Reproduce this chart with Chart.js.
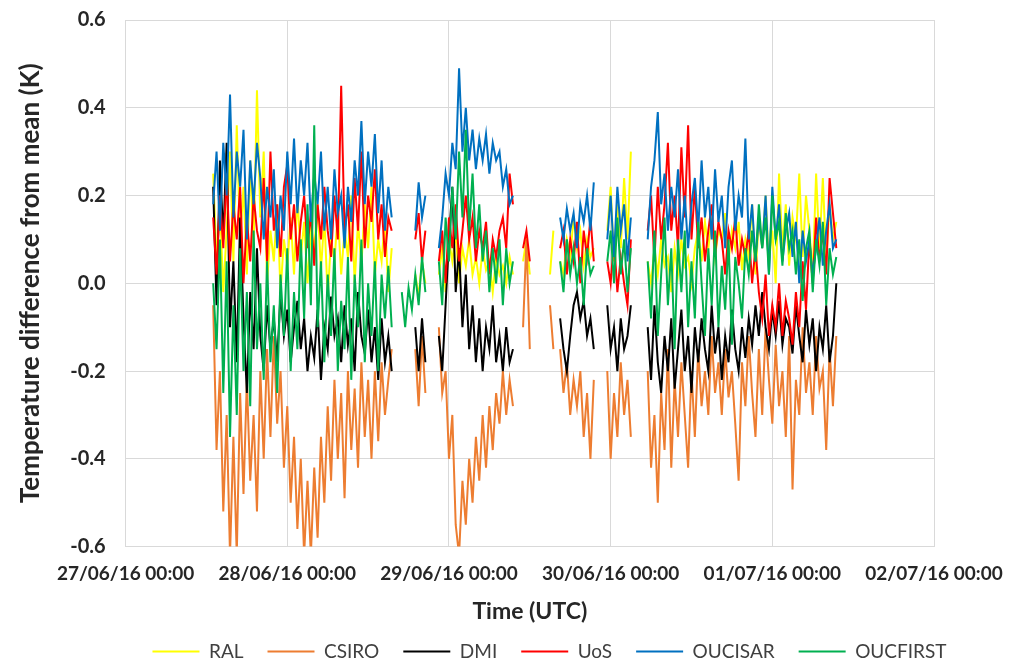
<!DOCTYPE html>
<html>
<head>
<meta charset="utf-8">
<script src="https://cdn.jsdelivr.net/npm/chart.js@4.4.1/dist/chart.umd.min.js"></script>
<style>
  html, body { margin: 0; padding: 0; background: #fff; }
</style>
</head>
<body>
<canvas id="chart" width="1033" height="663"></canvas>
<script>
const seriesNames = ['RAL', 'CSIRO', 'DMI', 'UoS', 'OUCISAR', 'OUCFIRST']
const seriesColors = ['#ffff00', '#ed7d31', '#000000', '#ff0000', '#0070c0', '#00b050']
const xTickLabels = ['27/06/16 00:00', '28/06/16 00:00', '29/06/16 00:00', '30/06/16 00:00', '01/07/16 00:00', '02/07/16 00:00']

// start of each run of samples, hours after 27/06/16 00:00 (samples every 30 min)
const runStarts = [13, 41, 46.5, 59, 63, 64.5, 71.5, 77.5]

const RAL = [
  [0.25, 0.05, 0.18, -0.02, 0.12, 0.30, 0.05, 0.36, 0.10, 0.22,
   0.02, 0.28, 0.08, 0.44, 0.15, 0.30, 0.00, 0.12, 0.05, 0.18,
   -0.02, 0.10, 0.04, 0.15, 0.02, 0.20, 0.06, 0.14, 0.00, 0.12,
   0.08, 0.18, 0.03, 0.15, -0.03, 0.10, 0.05, 0.16, 0.02, 0.12,
   0.06, 0.20, 0.00, 0.14, 0.04, 0.18, 0.08, 0.22, 0.02, 0.10,
   0.05, 0.15, -0.02, 0.08],
  [null, null, null, null, 0.02, -0.03, 0.05, 0.00],
  [0.02, 0.08, -0.02, 0.10, 0.05, 0.12, 0.00, 0.08, 0.04, 0.10, 0.02, 0.06, 0.00, 0.08, 0.03, 0.05, -0.02, 0.06, 0.02, 0.04, 0.00, 0.06, 0.02],
  [0.05, 0.10, 0.02],
  [0.02, 0.12],
  [0.05, 0.02, 0.10, 0.06, 0.15, 0.08, 0.12, 0.04, 0.10, 0.06, 0.08],
  [0.12, 0.22, 0.05, 0.18, 0.08, 0.24, 0.10, 0.30],
  [0.05, 0.00, 0.08, 0.02, 0.10, 0.04, 0.06, -0.02, 0.08, 0.02,
   0.10, 0.04, 0.06, 0.00, 0.08, 0.12, 0.05, 0.14, 0.08, 0.15,
   0.06, 0.12, 0.10, 0.16, 0.05, 0.12, 0.08, 0.14, 0.03, 0.10,
   0.06, 0.18, 0.02, 0.14, 0.08, 0.20, 0.05, 0.12, 0.00, 0.25,
   0.08, 0.18, 0.04, 0.15, 0.10, 0.25, 0.06, 0.20, 0.12, 0.02,
   0.25, 0.08, 0.24, 0.05, 0.18, 0.10, 0.14]
]

const CSIRO = [
  [-0.05, -0.38, -0.20, -0.52, -0.30, -0.62, -0.35, -0.62, -0.25, -0.48,
   -0.22, -0.45, -0.30, -0.52, -0.20, -0.40, -0.15, -0.35, -0.12, -0.32,
   -0.20, -0.42, -0.28, -0.50, -0.35, -0.56, -0.40, -0.62, -0.45, -0.62,
   -0.42, -0.58, -0.35, -0.50, -0.28, -0.45, -0.22, -0.40, -0.25, -0.49,
   -0.20, -0.38, -0.24, -0.42, -0.18, -0.35, -0.22, -0.40, -0.20, -0.36,
   -0.18, -0.30, -0.22, -0.15],
  [null, null, null, null, -0.15, -0.28, -0.12, -0.25],
  [-0.10, -0.25, -0.20, -0.40, -0.30, -0.55, -0.62, -0.45, -0.55, -0.40, -0.50, -0.35, -0.45, -0.30, -0.42, -0.28, -0.38, -0.25, -0.32, -0.20, -0.30, -0.22, -0.28],
  [-0.10, 0.10, -0.15],
  [-0.05, -0.15],
  [-0.15, -0.25, -0.18, -0.30, -0.22, -0.28, -0.20, -0.35, -0.25, -0.40, -0.22],
  [-0.20, -0.40, -0.25, -0.35, -0.18, -0.30, -0.22, -0.35],
  [-0.20, -0.42, -0.30, -0.50, -0.25, -0.38, -0.15, -0.42, -0.22, -0.35,
   -0.18, -0.30, -0.42, -0.20, -0.35, -0.15, -0.28, -0.20, -0.30, -0.12,
   -0.25, -0.18, -0.30, -0.15, -0.26, -0.20, -0.32, -0.45, -0.18, -0.28,
   -0.12, -0.25, -0.35, -0.15, -0.30, -0.10, -0.22, -0.32, -0.14, -0.28,
   -0.20, -0.35, -0.12, -0.47, -0.22, -0.30, -0.10, -0.25, -0.18, -0.30,
   -0.12, -0.24, -0.20, -0.38, -0.15, -0.28, -0.12]
]

const DMI = [
  [0.22, -0.05, 0.28, 0.10, 0.32, -0.10, 0.05, -0.18, 0.15, -0.08,
   -0.25, -0.02, -0.15, 0.08, -0.12, -0.20, -0.05, -0.15, -0.08, -0.18,
   -0.02, -0.12, -0.06, -0.18, -0.10, -0.04, -0.15, -0.08, -0.20, -0.12,
   -0.17, -0.06, -0.22, -0.10, -0.15, -0.03, -0.12, -0.08, -0.18, -0.05,
   -0.14, -0.08, -0.20, -0.02, -0.12, -0.16, -0.06, -0.18, -0.10, -0.22,
   -0.08, -0.18, -0.12, -0.20],
  [null, null, null, null, -0.10, -0.20, -0.08, -0.18],
  [-0.12, -0.20, -0.05, 0.10, 0.22, -0.02, 0.08, -0.10, 0.02, -0.15, -0.05, -0.18, -0.08, -0.20, -0.10, -0.15, -0.05, -0.18, -0.12, -0.20, -0.10, -0.18, -0.15],
  [],
  [],
  [-0.08, -0.15, -0.20, -0.12, -0.05, -0.02, -0.08, -0.04, -0.12, -0.08, -0.15],
  [-0.05, -0.15, -0.10, -0.20, -0.08, -0.15, -0.12, -0.05],
  [-0.10, -0.22, -0.05, -0.18, -0.25, -0.12, -0.20, -0.08, -0.24, -0.15,
   -0.06, -0.20, -0.12, -0.25, -0.10, -0.18, -0.08, -0.15, -0.20, -0.05,
   -0.16, -0.10, -0.22, -0.12, -0.18, -0.06, -0.15, -0.20, -0.10, -0.17,
   -0.08, -0.14, -0.05, -0.12, -0.02, -0.10, -0.15, -0.06, -0.12, -0.04,
   -0.14, -0.08, -0.10, -0.16, -0.05, -0.12, -0.18, -0.06, -0.14, -0.08,
   -0.20, -0.10, -0.15, -0.05, -0.18, -0.12, 0.00]
]

const UoS = [
  [0.15, 0.02, 0.20, 0.08, 0.25, 0.05, 0.18, 0.10, 0.22, 0.00,
   0.15, 0.05, 0.20, 0.12, 0.08, 0.24, 0.05, 0.30, 0.12, 0.18,
   0.06, 0.22, 0.27, 0.10, 0.18, 0.05, 0.14, 0.20, 0.08, 0.16,
   0.04, 0.18, 0.10, 0.22, 0.12, 0.06, 0.20, 0.10, 0.45, 0.12,
   0.18, 0.05, 0.24, 0.12, 0.30, 0.08, 0.20, 0.14, 0.26, 0.10,
   0.18, 0.06, 0.15, 0.12],
  [null, null, null, null, 0.10, 0.16, 0.05, 0.12],
  [0.05, 0.12, 0.00, 0.15, 0.08, 0.18, 0.05, 0.12, 0.20, 0.10, 0.15, 0.05, 0.12, 0.08, 0.14, 0.02, 0.10, 0.06, 0.12, 0.15, 0.08, 0.25, 0.18],
  [0.08, 0.12, 0.05],
  [],
  [0.08, 0.12, 0.02, 0.10, 0.05, 0.14, 0.00, 0.12, 0.06, 0.15, 0.05],
  [0.05, 0.00, 0.10, -0.02, 0.06, 0.00, -0.05, 0.10],
  [0.12, 0.20, 0.05, 0.22, 0.10, 0.18, 0.32, 0.12, 0.20, 0.08,
   0.31, 0.15, 0.36, 0.10, 0.22, 0.08, 0.15, 0.05, 0.12, 0.18,
   0.06, 0.14, 0.10, 0.02, 0.12, 0.08, 0.15, 0.04, 0.10, 0.06,
   0.12, 0.00, 0.08, -0.02, -0.08, 0.02, -0.12, -0.05, -0.10, 0.00,
   -0.12, -0.04, -0.08, -0.14, -0.02, -0.10, 0.05, -0.06, 0.10, 0.00,
   0.15, 0.05, 0.12, 0.02, 0.24, 0.16, 0.08]
]

const OUCISAR = [
  [0.18, 0.30, 0.12, 0.32, 0.20, 0.43, 0.15, 0.30, 0.22, 0.35,
   0.10, 0.28, 0.18, 0.32, 0.24, 0.10, 0.22, 0.15, 0.26, 0.08,
   0.20, 0.12, 0.30, 0.18, 0.33, 0.16, 0.28, 0.20, 0.32, 0.14,
   0.25, 0.18, 0.30, 0.12, 0.22, 0.10, 0.26, 0.16, 0.20, 0.08,
   0.22, 0.14, 0.28, 0.20, 0.37, 0.18, 0.30, 0.22, 0.34, 0.16,
   0.28, 0.12, 0.22, 0.15],
  [null, null, null, null, 0.12, 0.23, 0.15, 0.20],
  [0.08, 0.15, 0.25, 0.20, 0.32, 0.26, 0.49, 0.30, 0.40, 0.28, 0.35, 0.26, 0.33, 0.28, 0.34, 0.25, 0.32, 0.28, 0.30, 0.22, 0.26, 0.18, 0.20],
  [],
  [],
  [0.15, 0.10, 0.17, 0.12, 0.16, 0.08, 0.18, 0.14, 0.20, 0.12, 0.23],
  [0.10, 0.20, 0.06, 0.22, 0.12, 0.18, 0.05, 0.15],
  [0.10, 0.22, 0.28, 0.39, 0.18, 0.25, 0.12, 0.22, 0.15, 0.26,
   0.10, 0.20, 0.08, 0.18, 0.24, 0.12, 0.28, 0.15, 0.22, 0.10,
   0.26, 0.14, 0.20, 0.08, 0.22, 0.28, 0.12, 0.20, 0.15, 0.33,
   0.10, 0.18, 0.05, 0.15, 0.08, 0.20, 0.02, 0.22, 0.10, 0.18,
   0.05, 0.12, 0.16, 0.06, 0.14, 0.00, 0.12, 0.05, 0.10, 0.02,
   0.08, 0.15, 0.04, 0.12, 0.18, 0.08, 0.10]
]

const OUCFIRST = [
  [0.00, -0.15, 0.10, -0.25, 0.05, -0.35, -0.05, -0.30, 0.08, -0.20,
   -0.02, -0.28, 0.12, -0.15, 0.00, -0.22, 0.05, -0.18, -0.05, -0.25,
   0.02, -0.12, 0.08, -0.20, -0.02, -0.15, 0.10, -0.08, 0.18, -0.05,
   0.36, -0.10, 0.05, -0.18, 0.02, -0.12, 0.08, -0.20, -0.04, -0.15,
   0.06, -0.22, 0.02, -0.10, 0.10, -0.18, 0.00, -0.12, 0.05, -0.20,
   0.02, -0.08, 0.04, -0.10],
  [-0.02, -0.10, -0.01, -0.06, 0.02, -0.05, 0.06, -0.02],
  [0.05, -0.05, 0.15, 0.05, 0.22, 0.10, 0.30, 0.15, 0.35, 0.12, 0.25, 0.08, 0.18, 0.05, 0.12, -0.02, 0.08, 0.00, 0.10, -0.05, 0.08, 0.00, 0.05],
  [],
  [],
  [0.05, -0.02, 0.10, 0.02, 0.08, 0.00, 0.06, -0.05, 0.08, 0.02, 0.04],
  [0.05, 0.12, 0.00, 0.15, 0.02, 0.10, -0.02, 0.08],
  [0.05, -0.08, 0.12, -0.12, 0.02, 0.15, -0.05, 0.08, -0.15, 0.10,
   -0.02, 0.12, -0.10, 0.05, -0.08, 0.14, 0.00, -0.12, 0.08, -0.05,
   0.12, -0.10, 0.04, -0.06, 0.10, -0.14, 0.06, 0.00, -0.08, 0.08,
   0.02, 0.12, 0.05, 0.18, 0.08, 0.15, 0.02, 0.20, 0.10, 0.14,
   0.04, 0.16, 0.08, 0.12, 0.02, 0.10, -0.04, 0.08, 0.12, -0.02,
   0.10, 0.04, 0.14, -0.05, 0.08, 0.02, 0.06]
]

const allSeries = [RAL, CSIRO, DMI, UoS, OUCISAR, OUCFIRST]

// turn runs into {x, y} points with a null after each run so the line breaks
const toPoints = runs => {
  let pts = []
  runs.forEach((vals, r) => {
    if (!vals.length) return
    vals.forEach((v, k) => pts.push({x: runStarts[r] + k * 0.5, y: v}))
    pts.push({x: runStarts[r] + vals.length * 0.5, y: null})
  })
  return pts
}

const datasets = allSeries.map((runs, i) => ({
  label: seriesNames[i],
  data: toPoints(runs),
  borderColor: seriesColors[i],
  backgroundColor: seriesColors[i],
  borderWidth: 2,
  pointRadius: 0,
  tension: 0,
  spanGaps: false,
  order: allSeries.length - i   // later series drawn on top, like Excel
}))

const gridColor = '#d9d9d9'
const textColor = '#262626'
const fam = 'Lato, "Open Sans", sans-serif'

// Excel puts the legend a little right of centre
const legendShift = {
  id: 'legendShift',
  afterLayout: chart => {
    chart.legend.left += 75
    chart.legend.right += 75
  }
}

new Chart(document.getElementById('chart'), {
  type: 'line',
  data: { datasets: datasets },
  plugins: [legendShift],
  options: {
    responsive: false,
    devicePixelRatio: 1,
    animation: false,
    layout: { padding: { left: 15, right: 99, top: 20, bottom: -8 } },
    scales: {
      x: {
        type: 'linear',
        min: 0,
        max: 120,
        afterFit: s => { s.paddingRight = 0 },
        ticks: {
          stepSize: 24,
          autoSkip: false,
          maxRotation: 0,
          padding: 16,
          color: textColor,
          font: { family: fam, size: 19, weight: 'bold' },
          callback: v => xTickLabels[Math.round(v / 24)]
        },
        grid: { color: gridColor, tickLength: 0 },
        border: { color: gridColor },
        title: {
          display: true,
          text: 'Time (UTC)',
          color: textColor,
          font: { family: fam, size: 23, weight: 'bold' },
          padding: { top: -4, bottom: -7 }
        }
      },
      y: {
        min: -0.6,
        max: 0.6,
        afterFit: s => { s.paddingTop = 0 },
        ticks: {
          stepSize: 0.2,
          padding: 20,
          color: textColor,
          font: { family: fam, size: 20, weight: 'bold' },
          callback: v => Math.abs(v) < 1e-9 ? '0.0' : v.toFixed(1)
        },
        grid: { color: gridColor, tickLength: 0 },
        border: { color: gridColor },
        title: {
          display: true,
          text: 'Temperature difference from mean (K)',
          color: textColor,
          font: { family: fam, size: 26, weight: 'bold' },
          padding: { top: 0, bottom: 4 }
        }
      }
    },
    plugins: {
      legend: {
        position: 'bottom',
        labels: {
          usePointStyle: true,
          pointStyle: 'line',
          pointStyleWidth: 47,
          padding: 24,
          color: '#404040',
          font: { family: fam, size: 19 },
          sort: (a, b) => a.datasetIndex - b.datasetIndex,
          generateLabels: chart => Chart.defaults.plugins.legend.labels.generateLabels(chart)
            .map(item => Object.assign(item, { lineWidth: 2 }))
        }
      },
      tooltip: { enabled: false }
    }
  }
})
</script>
</body>
</html>
